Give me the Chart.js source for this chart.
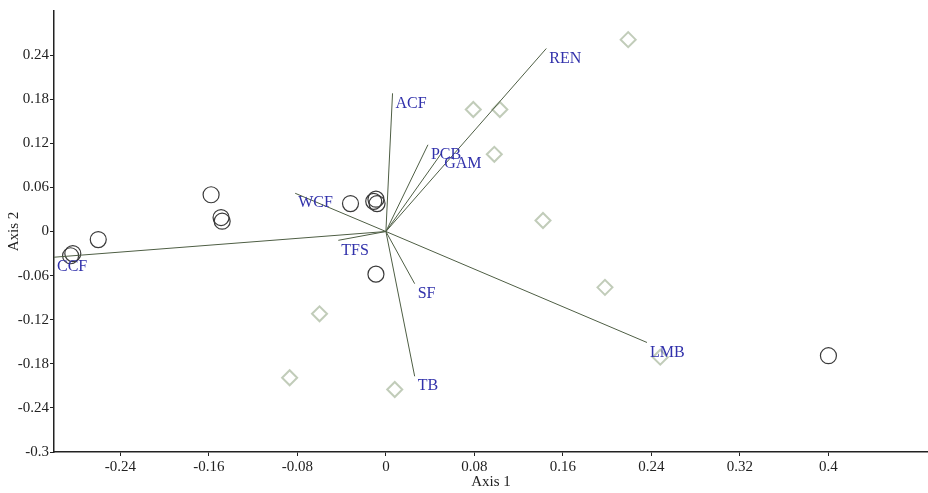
<!DOCTYPE html>
<html>
<head>
<meta charset="utf-8">
<script src="https://cdn.jsdelivr.net/npm/chart.js@4/dist/chart.umd.min.js"></script>
<style>
  html, body { margin: 0; padding: 0; background: #fff; }
  #wrap { width: 928px; height: 493px; }
</style>
</head>
<body>
<div id="wrap"><canvas id="c"></canvas></div>
<script>
// Sample scores (group 1: circles)
const circleX = [-0.285, -0.283, -0.260, -0.158, -0.149, -0.148, -0.032, -0.011, -0.009, -0.008, -0.009, 0.400];
const circleY = [-0.033, -0.030, -0.011, 0.050, 0.019, 0.014, 0.038, 0.041, 0.044, 0.038, -0.058, -0.169];

// Sample scores (group 2: diamonds)
const diamondX = [0.219, 0.079, 0.103, 0.098, 0.142, 0.198, -0.060, -0.087, 0.008, 0.248];
const diamondY = [0.261, 0.166, 0.166, 0.105, 0.015, -0.076, -0.112, -0.199, -0.215, -0.171];

// Variable loadings (biplot vectors from the origin)
const vectorNames = ['REN', 'ACF', 'PCB', 'GAM', 'WCF', 'CCF', 'TFS', 'SF', 'TB', 'LMB'];
const vectorX = [0.145, 0.006, 0.038, 0.050, -0.082, -0.300, -0.043, 0.026, 0.026, 0.236];
const vectorY = [0.249, 0.188, 0.118, 0.106, 0.052, -0.035, -0.012, -0.071, -0.197, -0.151];

// Axis tick labels
const xTicks = [-0.24, -0.16, -0.08, 0, 0.08, 0.16, 0.24, 0.32, 0.4];
const yTicks = [-0.3, -0.24, -0.18, -0.12, -0.06, 0, 0.06, 0.12, 0.18, 0.24];

const serif = '"Liberation Serif", "DejaVu Serif", serif';
const vectorColor = '#4e5e44';
const labelColor = '#3131ab';

const datasets = [];
vectorNames.forEach((name, i) => {
  datasets.push({
    label: name,
    data: [{ x: 0, y: 0 }, { x: vectorX[i], y: vectorY[i] }],
    showLine: true,
    borderColor: vectorColor,
    borderWidth: 1,
    pointRadius: 0,
    fill: false
  });
});
datasets.push({
  label: 'Group 2',
  data: diamondX.map((x, i) => ({ x, y: diamondY[i] })),
  pointStyle: 'rectRot',
  pointRadius: 7.5,
  borderColor: 'rgba(160,176,148,0.65)',
  borderWidth: 2,
  backgroundColor: 'rgba(0,0,0,0)'
});
datasets.push({
  label: 'Group 1',
  data: circleX.map((x, i) => ({ x, y: circleY[i] })),
  pointStyle: 'circle',
  pointRadius: 8,
  borderColor: '#3a3a3a',
  borderWidth: 1.2,
  backgroundColor: 'rgba(0,0,0,0)'
});

// Writes each variable name next to the tip of its vector
const vectorLabels = {
  id: 'vectorLabels',
  afterDatasetsDraw(chart) {
    const { ctx, scales } = chart;
    ctx.save();
    ctx.font = '16px ' + serif;
    ctx.fillStyle = labelColor;
    ctx.textAlign = 'left';
    ctx.textBaseline = 'middle';
    vectorNames.forEach((name, i) => {
      const px = scales.x.getPixelForValue(vectorX[i]);
      const py = scales.y.getPixelForValue(vectorY[i]);
      ctx.fillText(name, px + 3, py + 10);
    });
    ctx.restore();
  }
};

const fmt = v => String(Number(v.toFixed(2)));

new Chart(document.getElementById('c'), {
  type: 'scatter',
  data: { datasets },
  options: {
    responsive: true,
    maintainAspectRatio: false,
    animation: false,
    layout: { autoPadding: false, padding: { top: 11, right: 0, bottom: 0, left: 0 } },
    plugins: { legend: { display: false }, tooltip: { enabled: false } },
    scales: {
      x: {
        type: 'linear',
        min: -0.3,
        max: 0.49,
        afterBuildTicks: s => { s.ticks = xTicks.map(v => ({ value: v })); },
        afterFit: s => { s.height = 41; },
        grid: { display: true, drawOnChartArea: false, tickLength: 4, color: '#222' },
        border: { display: true, color: '#222', width: 1.5 },
        ticks: { color: '#222', font: { family: serif, size: 15 }, padding: 2, callback: fmt, maxRotation: 0 },
        title: { display: true, text: 'Axis 1', color: '#222', font: { family: serif, size: 15, lineHeight: 1 }, padding: { top: 0, bottom: 3 } }
      },
      y: {
        type: 'linear',
        min: -0.3,
        max: 0.3,
        afterBuildTicks: s => { s.ticks = yTicks.map(v => ({ value: v })); },
        afterFit: s => { s.width = 54; },
        grid: { display: true, drawOnChartArea: false, tickLength: 4, color: '#222' },
        border: { display: true, color: '#222', width: 1.5 },
        ticks: { color: '#222', font: { family: serif, size: 15 }, padding: 1, callback: fmt },
        title: { display: true, text: 'Axis 2', color: '#222', font: { family: serif, size: 15, lineHeight: 1 }, padding: { top: 7, bottom: 0 } }
      }
    }
  },
  plugins: [vectorLabels]
});
</script>
</body>
</html>
